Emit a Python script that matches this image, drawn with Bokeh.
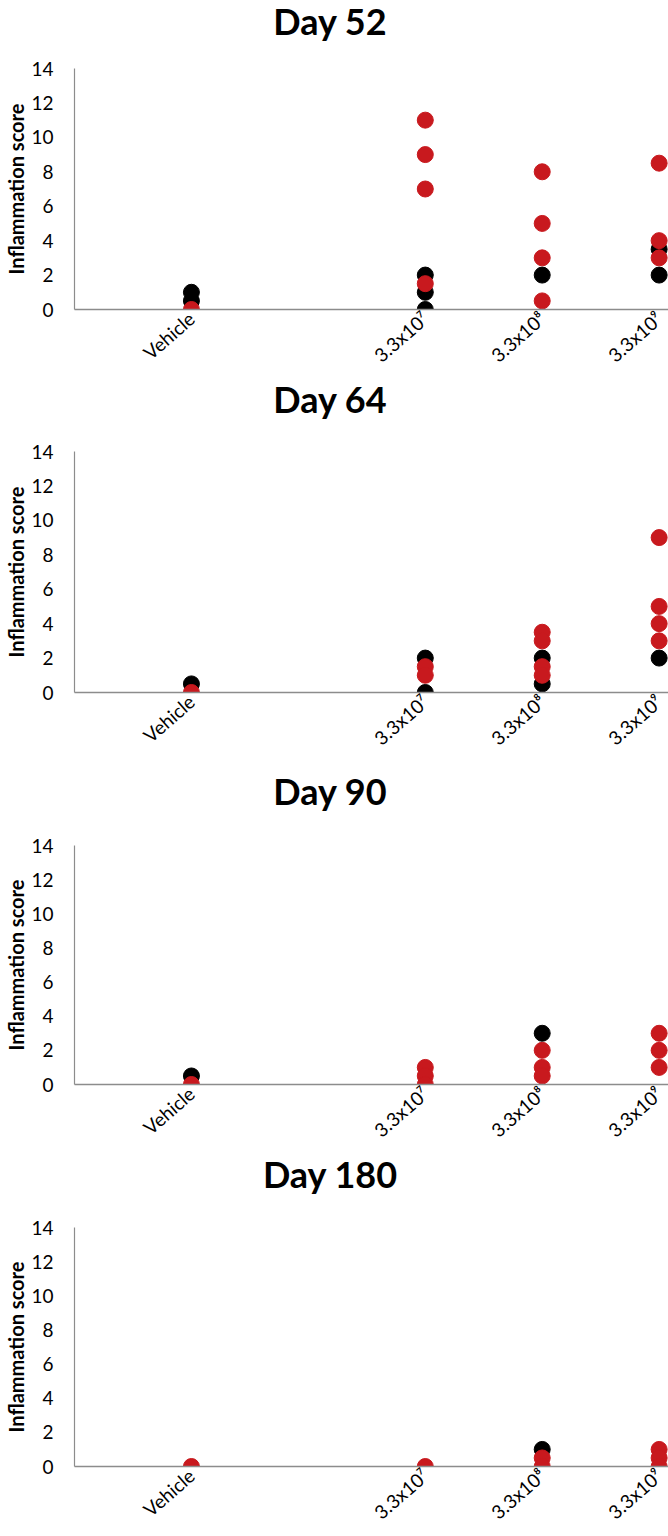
from bokeh.plotting import figure
from bokeh.layouts import column
from bokeh.models import FixedTicker, Range1d, ColumnDataSource, Div
from bokeh.embed import file_html
from bokeh.resources import INLINE

# ---- data -------------------------------------------------------------
doses = ["Vehicle", "3.3x10\u2077", "3.3x10\u2078", "3.3x10\u2079"]
dose_pos = [1, 3, 4, 5]          # category slots on the x axis (Vehicle, gap, three doses)
days = ["Day 52", "Day 64", "Day 90", "Day 180"]

# scores per dose group (Vehicle, 3.3x10^7, 3.3x10^8, 3.3x10^9)
day52_black = [[1, 0.5], [2, 1, 0], [2], [3.5, 2]]
day52_red = [[0], [11, 9, 7, 1.5], [8, 5, 3, 0.5], [8.5, 4, 3]]

day64_black = [[0.5], [2, 0], [2, 0.5], [2]]
day64_red = [[0], [1.5, 1], [3.5, 3, 1.5, 1], [9, 5, 4, 3]]

day90_black = [[0.5], [], [3], []]
day90_red = [[0], [1, 0.5, 0], [2, 1, 0.5], [3, 2, 1]]

day180_black = [[], [], [1], []]
day180_red = [[0], [0], [0.5, 0], [1, 0.5, 0]]

y_ticks = [0, 2, 4, 6, 8, 10, 12, 14]

black_sets = [day52_black, day64_black, day90_black, day180_black]
red_sets = [day52_red, day64_red, day90_red, day180_red]

# ---- styling / layout -------------------------------------------------
RED = "#C8191E"
FONT = "Lato"
AXIS_GRAY = "#8C8C8C"
W = 668
TOP = 12
FRAME_H = 241

# (title block height, bottom border of the chart below it)
layout_specs = [
    (56, 69),
    (61, 78),
    (63, 67),
    (62, 67),
]


def expand(groups):
    xs, ys = [], []
    for pos, vals in zip(dose_pos, groups):
        for v in vals:
            xs.append(pos)
            ys.append(v)
    return ColumnDataSource(dict(x=xs, y=ys))


items = []
for day, blk, red, spec in zip(days, black_sets, red_sets, layout_specs):
    title_h, bottom = spec
    title = Div(
        text=('<div style="font-family:Lato;font-weight:bold;font-size:36px;'
              'line-height:43px;text-align:center;width:660px;margin:0;padding:0;'
              'color:#000000;">' + day + '</div>'),
        width=W, height=title_h, margin=(0, 0, 0, 0))
    items.append(title)

    p = figure(width=W, height=TOP + FRAME_H + bottom, output_backend="svg",
               toolbar_location=None,
               x_range=Range1d(0, 5.08), y_range=Range1d(0, 14),
               min_border_left=74, min_border_right=0,
               min_border_top=TOP, min_border_bottom=bottom,
               margin=(0, 0, 0, 0))
    p.outline_line_color = None
    p.grid.visible = False

    p.scatter("x", "y", source=expand(blk), size=16, color="black")
    p.scatter("x", "y", source=expand(red), size=16, color=RED)

    xa = p.xaxis[0]
    xa.ticker = FixedTicker(ticks=dose_pos)
    xa.major_label_overrides = {pos: lab for pos, lab in zip(dose_pos, doses)}
    xa.major_label_orientation = 0.72
    xa.major_tick_line_color = None
    xa.minor_tick_line_color = None
    xa.axis_line_color = AXIS_GRAY
    xa.axis_line_width = 1.4
    xa.major_label_text_font = FONT
    xa.major_label_text_font_size = "19px"
    xa.major_label_text_color = "black"
    xa.major_label_standoff = 0

    ya = p.yaxis[0]
    ya.ticker = FixedTicker(ticks=y_ticks)
    ya.major_tick_line_color = None
    ya.minor_tick_line_color = None
    ya.axis_line_color = AXIS_GRAY
    ya.axis_line_width = 1.2
    ya.major_label_text_font = FONT
    ya.major_label_text_font_size = "19px"
    ya.major_label_text_color = "black"
    ya.major_label_standoff = 15
    ya.axis_label = "Inflammation score"
    ya.axis_label_text_font = FONT
    ya.axis_label_text_font_size = "20px"
    ya.axis_label_text_font_style = "bold"
    ya.axis_label_text_color = "black"
    ya.axis_label_standoff = 0

    items.append(p)

layout = column(*items, spacing=0)
open("out.html", "w").write(file_html(layout, INLINE))
